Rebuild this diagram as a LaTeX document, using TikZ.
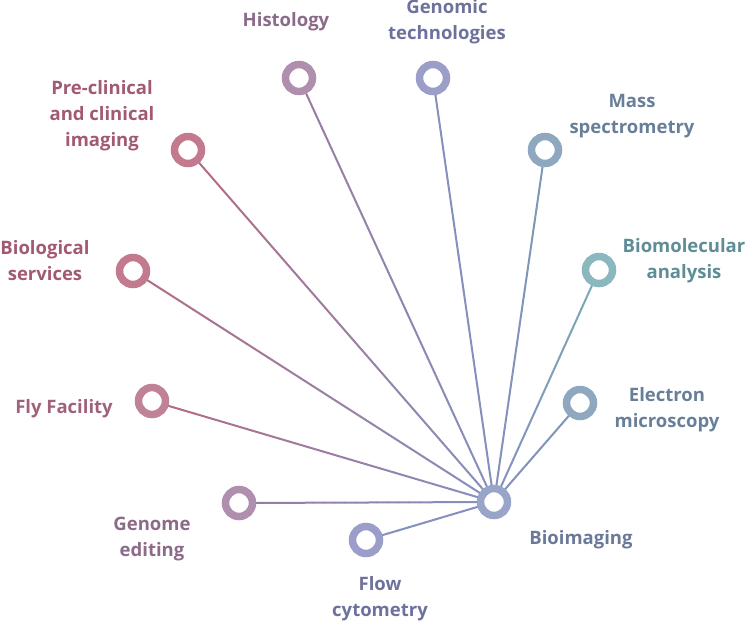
\documentclass[tikz,border=0pt]{standalone}
\usepackage{fontspec}
\newfontfamily\labfont{Open Sans}
\usetikzlibrary{backgrounds,calc}
\definecolor{ringPink}{HTML}{C47A8E}
\definecolor{txtPink}{HTML}{A25A73}
\definecolor{ringFly}{HTML}{BF8299}
\definecolor{txtFly}{HTML}{A0627B}
\definecolor{ringMauve}{HTML}{B08EAD}
\definecolor{txtMauve}{HTML}{8C6A89}
\definecolor{ringLav}{HTML}{9A9EC8}
\definecolor{txtLav}{HTML}{6C729C}
\definecolor{ringSteel}{HTML}{8FA8C0}
\definecolor{txtSteel}{HTML}{687F99}
\definecolor{ringTeal}{HTML}{8BB7BF}
\definecolor{txtTeal}{HTML}{5E8D96}
\definecolor{ringBio}{HTML}{98A4C8}
\definecolor{txtBio}{HTML}{6B7898}
\definecolor{lnPink}{HTML}{B56A84}
\definecolor{lnMauve}{HTML}{9A7BA0}
\definecolor{lnBio}{HTML}{8590BE}
\definecolor{lnSteel}{HTML}{7E98B8}
\definecolor{lnTeal}{HTML}{7CAAB4}
\tikzset{
  ring/.style={circle, draw=#1, line width=7.5pt, fill=white, minimum size=27pt, inner sep=0pt},
  lab/.style={align=center, text=#1, font=\labfont\bfseries\fontsize{18.5}{26}\selectfont, inner sep=0pt},
  conn/.style={line width=2pt, line cap=round}
}
\newcommand\gline[3]{%
  \foreach \i in {0,...,23}{%
    \pgfmathtruncatemacro\p{100-\i*100/23}%
    \draw[conn, color={#2!\p!#3}] ($(#1)!\i/24!(bio)$) -- ($(#1)!{(\i+1)/24}!(bio)$);%
  }%
}
\begin{document}
\begin{tikzpicture}[x=1pt,y=-1pt]
\useasboundingbox (0,0) rectangle (750,622);
% rings
\node[ring=ringBio]   (bio)  at (494,502) {};
\node[ring=ringMauve] (hist) at (299,78)  {};
\node[ring=ringLav]   (gen)  at (433,78)  {};
\node[ring=ringPink]  (pre)  at (188,150) {};
\node[ring=ringSteel] (mass) at (545,150) {};
\node[ring=ringPink]  (bs)   at (133,271) {};
\node[ring=ringTeal]  (bm)   at (599,270) {};
\node[ring=ringFly]   (fly)  at (152,401) {};
\node[ring=ringSteel] (em)   at (580,403) {};
\node[ring=ringMauve] (ge)   at (239,503) {};
\node[ring=ringLav]   (flow) at (366,540) {};
% labels
\node[lab=txtMauve] (lhist) at (286,22)  {Histology};
\node[lab=txtLav]   (lgen)  at (447,22)  {Genomic\\technologies};
\node[lab=txtPink]  (lpre)  at (102,116) {Pre-clinical\\and clinical\\imaging};
\node[lab=txtSteel] (lmass) at (632,116) {Mass\\spectrometry};
\node[lab=txtPink]  (lbs)   at (45,261)  {Biological\\services};
\node[lab=txtTeal]  (lbm)   at (684,261) {Biomolecular\\analysis};
\node[lab=txtFly]   (lfly)  at (64,409)  {Fly Facility};
\node[lab=txtSteel] (lem)   at (667,410) {Electron\\microscopy};
\node[lab=txtMauve] (lge)   at (152,539) {Genome\\editing};
\node[lab=txtLav]   (lflow) at (380,599) {Flow\\cytometry};
\node[lab=txtBio]   (lbio)  at (581,540) {Bioimaging};
% connectors
\begin{scope}[on background layer]
\gline{hist}{lnMauve}{lnBio}
\gline{gen}{lnBio}{lnBio}
\gline{pre}{lnPink}{lnBio}
\gline{mass}{lnSteel}{lnBio}
\gline{bs}{lnPink}{lnBio}
\gline{bm}{lnTeal}{lnBio}
\gline{fly}{lnPink}{lnBio}
\gline{em}{lnSteel}{lnBio}
\gline{ge}{lnMauve}{lnBio}
\gline{flow}{lnBio}{lnBio}
\end{scope}
\end{tikzpicture}
\end{document}
